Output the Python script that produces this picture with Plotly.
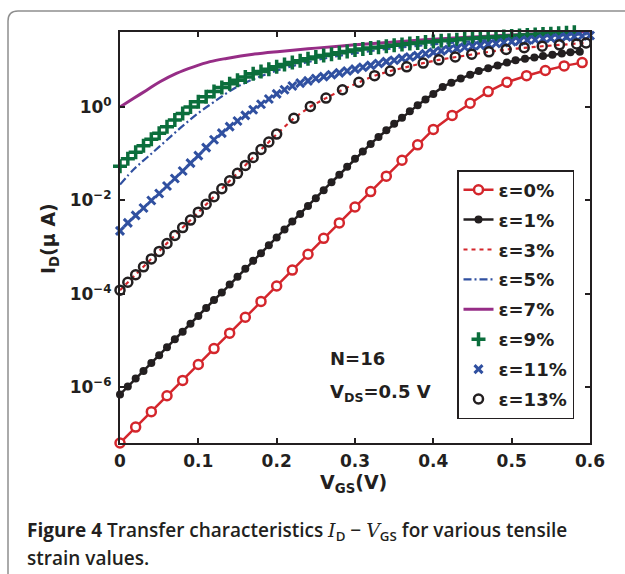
import plotly.graph_objects as go

# ---------------- data (log10 of I_D in uA) ----------------
v_0 = [0.00, 0.02, 0.04, 0.06, 0.08, 0.10, 0.12, 0.14, 0.16, 0.18, 0.20, 0.22, 0.24, 0.26,
       0.28, 0.30, 0.32, 0.34, 0.36, 0.38, 0.40, 0.424, 0.447, 0.470, 0.494, 0.519, 0.543,
       0.567, 0.590]
lg_0 = [-7.19, -6.85, -6.52, -6.18, -5.85, -5.51, -5.17, -4.84, -4.50, -4.16, -3.83, -3.49,
        -3.15, -2.81, -2.48, -2.14, -1.81, -1.48, -1.14, -0.81, -0.48, -0.18, 0.08, 0.33,
        0.53, 0.67, 0.78, 0.88, 0.95]

v_1 = [0.00, 0.01, 0.02, 0.03, 0.04, 0.05, 0.06, 0.07, 0.08, 0.09, 0.10, 0.11, 0.12, 0.13,
       0.14, 0.15, 0.16, 0.17, 0.18, 0.19, 0.20, 0.21, 0.22, 0.23, 0.24, 0.25, 0.26, 0.27,
       0.28, 0.29, 0.30, 0.31, 0.32, 0.33, 0.34, 0.35, 0.36, 0.37, 0.38, 0.39, 0.40,
       0.412, 0.423, 0.435, 0.447, 0.458, 0.470, 0.482, 0.494, 0.505, 0.517, 0.529, 0.540,
       0.552, 0.564, 0.575, 0.587]
lg_1 = [-6.15, -5.98, -5.81, -5.65, -5.48, -5.31, -5.14, -4.97, -4.81, -4.64,
        -4.47, -4.30, -4.13, -3.97, -3.80, -3.63, -3.46, -3.29, -3.13, -2.96,
        -2.79, -2.62, -2.45, -2.29, -2.12, -1.95, -1.78, -1.61, -1.45, -1.28,
        -1.11, -0.95, -0.79, -0.64, -0.50, -0.36, -0.23, -0.09, 0.04, 0.16,
        0.28, 0.43, 0.52, 0.61, 0.69, 0.77, 0.83, 0.89, 0.95, 1.00, 1.03, 1.06, 1.09,
        1.12, 1.145, 1.17, 1.185]

v_13 = [0.00, 0.01, 0.02, 0.03, 0.04, 0.05, 0.06, 0.07, 0.08, 0.09, 0.10, 0.11, 0.12, 0.13,
        0.14, 0.15, 0.16, 0.17, 0.18, 0.19, 0.20, 0.222, 0.243, 0.263, 0.284, 0.305, 0.325,
        0.345, 0.366, 0.387, 0.407, 0.428, 0.449, 0.471, 0.493, 0.516, 0.539, 0.561, 0.583,
        0.595]
lg_13 = [-3.92, -3.75, -3.59, -3.42, -3.25, -3.09, -2.92, -2.75, -2.58, -2.42, -2.25, -2.08,
         -1.92, -1.75, -1.58, -1.42, -1.25, -1.08, -0.91, -0.75, -0.58, -0.24, 0.01, 0.19,
         0.37, 0.53, 0.67, 0.77, 0.86, 0.94, 1.01, 1.07, 1.13, 1.18, 1.23, 1.27, 1.30, 1.33,
         1.35, 1.37]

# eps = 3 % coincides with eps = 13 % in the figure
v_3 = list(v_13)
lg_3 = list(lg_13)

v_5 = [0.00, 0.019, 0.036, 0.0575, 0.079, 0.100, 0.121, 0.143, 0.164, 0.185, 0.204, 0.25,
       0.30, 0.35, 0.40, 0.45, 0.50, 0.55, 0.60]
lg_5 = [-1.66, -1.31, -1.06, -0.74, -0.42, -0.13, 0.12, 0.37, 0.55, 0.69, 0.80, 1.00,
        1.15, 1.26, 1.34, 1.41, 1.47, 1.52, 1.56]

v_7 = [0.00, 0.017, 0.034, 0.051, 0.072, 0.094, 0.115, 0.136, 0.170, 0.204, 0.25, 0.30,
       0.35, 0.40, 0.45, 0.50, 0.55, 0.60]
lg_7 = [0.00, 0.18, 0.36, 0.54, 0.72, 0.86, 0.97, 1.04, 1.13, 1.19, 1.26, 1.33,
        1.39, 1.45, 1.50, 1.54, 1.58, 1.62]

v_grid = [0.00, 0.01, 0.02, 0.03, 0.04, 0.05, 0.06, 0.07, 0.08, 0.09,
          0.10, 0.11, 0.12, 0.13, 0.14, 0.15, 0.16, 0.17, 0.18, 0.19,
          0.20, 0.21, 0.22, 0.23, 0.24, 0.25, 0.26, 0.27, 0.28, 0.29,
          0.30, 0.31, 0.32, 0.33, 0.34, 0.35, 0.36, 0.37, 0.38, 0.39,
          0.40, 0.41, 0.42, 0.43, 0.44, 0.45, 0.46, 0.47, 0.48, 0.49,
          0.50, 0.51, 0.52, 0.53, 0.54, 0.55, 0.56, 0.57, 0.58, 0.59, 0.60]
lg_9 = [-1.27, -1.11, -0.97, -0.83, -0.69, -0.56, -0.42, -0.28, -0.14, 0.00,
        0.11, 0.22, 0.33, 0.42, 0.50, 0.57, 0.64, 0.71, 0.76, 0.81,
        0.86, 0.91, 0.95, 0.99, 1.03, 1.07, 1.10, 1.13, 1.16, 1.19,
        1.22, 1.24, 1.26, 1.28, 1.30, 1.32, 1.34, 1.36, 1.37, 1.39,
        1.40, 1.42, 1.43, 1.44, 1.46, 1.47, 1.48, 1.49, 1.50, 1.51,
        1.52, 1.53, 1.54, 1.55, 1.56, 1.57, 1.58, 1.59, 1.60, 1.61, 1.62]
lg_11 = [-2.65, -2.48, -2.32, -2.16, -2.00, -1.85, -1.69, -1.53, -1.37, -1.20,
         -1.04, -0.87, -0.70, -0.56, -0.42, -0.30, -0.18, -0.06, 0.06, 0.17,
         0.28, 0.37, 0.45, 0.51, 0.56, 0.61, 0.65, 0.69, 0.73, 0.77,
         0.81, 0.85, 0.89, 0.93, 0.97, 1.00, 1.04, 1.07, 1.10, 1.14,
         1.17, 1.20, 1.23, 1.25, 1.28, 1.30, 1.32, 1.34, 1.36, 1.38,
         1.40, 1.41, 1.43, 1.44, 1.46, 1.47, 1.48, 1.50, 1.51, 1.52, 1.53]

x_ticks = [0, 0.1, 0.2, 0.3, 0.4, 0.5, 0.6]
x_ticktext = ["0", "0.1", "0.2", "0.3", "0.4", "0.5", "0.6"]
y_ticks = [1e-6, 1e-4, 1e-2, 1]
y_ticktext = ["10<sup>−6</sup>", "10<sup>−4</sup>", "10<sup>−2</sup>", "10<sup>0</sup>"]
labels = ["ε=0%", "ε=1%", "ε=3%", "ε=5%", "ε=7%", "ε=9%", "ε=11%", "ε=13%"]

# ---------------- styling ----------------
W, H = 625, 574
L, R, T, B = 120, 35, 32, 131
PW, PH = W - L - R, H - T - B
INK = "#231f20"
RED = "#d4262c"
PURPLE = "#962d86"
GREEN = "#0b6e3c"
BLUE = "#3050a0"
SANS = "DejaVu Sans, Verdana, sans-serif"


def px(xp):
    return (xp - L) / PW


def py(yp):
    return (H - B - yp) / PH


def tolin(lg):
    return [10 ** v for v in lg]


fig = go.Figure()
fig.add_trace(go.Scatter(x=v_0, y=tolin(lg_0), name=labels[0], mode="lines+markers",
                         line=dict(color=RED, width=2.5),
                         marker=dict(symbol="circle", size=9, color="white",
                                     line=dict(color=RED, width=2.5)),
                         legendgroup="g0", cliponaxis=False))
fig.add_trace(go.Scatter(x=v_1, y=tolin(lg_1), name=labels[1], mode="lines+markers",
                         line=dict(color=INK, width=2.5),
                         marker=dict(symbol="circle", size=8, color=INK),
                         legendgroup="g1", cliponaxis=False))
fig.add_trace(go.Scatter(x=v_3, y=tolin(lg_3), name=labels[2], mode="lines",
                         line=dict(color=RED, width=2.2, dash="4px,4px"),
                         legendgroup="g2"))
fig.add_trace(go.Scatter(x=v_5, y=tolin(lg_5), name=labels[3], mode="lines",
                         line=dict(color=BLUE, width=2.2, dash="8px,3px,2px,3px", shape="spline"),
                         legendgroup="g3"))
fig.add_trace(go.Scatter(x=v_7, y=tolin(lg_7), name=labels[4], mode="lines",
                         line=dict(color=PURPLE, width=3, shape="spline"),
                         legendgroup="g4"))
fig.add_trace(go.Scatter(x=v_grid, y=tolin(lg_9), name=labels[5], mode="markers",
                         marker=dict(symbol="cross-thin", size=10, color=GREEN,
                                     line=dict(color=GREEN, width=3.5)),
                         legendgroup="g5", cliponaxis=False))
fig.add_trace(go.Scatter(x=v_grid, y=tolin(lg_11), name=labels[6], mode="markers",
                         marker=dict(symbol="x-thin", size=8, color=BLUE,
                                     line=dict(color=BLUE, width=3)),
                         legendgroup="g6", cliponaxis=False))
fig.add_trace(go.Scatter(x=v_13, y=tolin(lg_13), name=labels[7], mode="markers",
                         marker=dict(symbol="circle-open", size=9, color=INK,
                                     line=dict(color=INK, width=2.5)),
                         legendgroup="g7", cliponaxis=False))

axis_common = dict(showline=True, linecolor=INK, linewidth=2, mirror="ticks",
                   ticks="inside", ticklen=5, tickwidth=2, tickcolor=INK,
                   showgrid=False, zeroline=False,
                   tickfont=dict(family=SANS, size=17, color=INK, weight="bold"))

fig.update_xaxes(range=[0, 0.6], tickvals=x_ticks, ticktext=x_ticktext,
                 ticklabelstandoff=2, **axis_common)
fig.update_yaxes(type="log", range=[-7.19, 1.605], tickvals=y_ticks, ticktext=y_ticktext,
                 ticklabelstandoff=3, **axis_common)

ann_font = dict(family=SANS, size=18, color=INK, weight="bold")
title_font = dict(family=SANS, size=19, color=INK, weight="bold")
cap_font = dict(family="Open Sans, sans-serif", size=19, color=INK, weight=600)
annotations = [
    dict(x=px(328), y=py(358), text="N=16", xanchor="left", yanchor="middle", font=ann_font),
    dict(x=px(328), y=py(393), text="V<sub>DS</sub>=0.5 V", xanchor="left", yanchor="middle",
         font=ann_font),
    dict(x=px(50), y=py(239), text="I<sub>D</sub>(μ A)", textangle=-90, xanchor="center",
         yanchor="middle", font=title_font),
    dict(x=px(353), y=py(483), text="V<sub>GS</sub>(V)", xanchor="center", yanchor="middle",
         font=title_font),
    dict(x=px(25), y=py(531), xanchor="left", yanchor="middle",
         text="<b>Figure 4</b> Transfer characteristics "
              "<span style='font-family:DejaVu Serif;font-weight:normal'><i>I</i></span>"
              "<sub>D</sub> − "
              "<span style='font-family:DejaVu Serif;font-weight:normal'><i>V</i></span>"
              "<sub>GS</sub> for various tensile",
         font=cap_font),
    dict(x=px(25), y=py(558), xanchor="left", yanchor="middle", text="strain values.",
         font=cap_font),
]
for a in annotations:
    a.update(xref="paper", yref="paper", showarrow=False)

# rounded figure frame
rx, ry = 10 / PW, 10 / PH
x0, y0 = px(8), py(11)
frame_path = (f"M {x0},{py(590)} L {x0},{y0 - ry} Q {x0},{y0} {x0 + rx},{y0} "
              f"L {px(640)},{y0}")

fig.update_layout(
    width=W, height=H, margin=dict(l=L, r=R, t=T, b=B, autoexpand=False),
    paper_bgcolor="white", plot_bgcolor="white",
    annotations=annotations,
    shapes=[dict(type="path", path=frame_path, xref="paper", yref="paper",
                 line=dict(color="#8e8e8e", width=1.5), layer="below")],
    legend=dict(x=px(457), y=py(170), xanchor="left", yanchor="top",
                bgcolor="white", bordercolor=INK, borderwidth=1.5,
                font=dict(family=SANS, size=18, color=INK, weight="bold"),
                tracegroupgap=3.5, itemwidth=30),
    showlegend=True,
)

fig.write_html("out.html")
